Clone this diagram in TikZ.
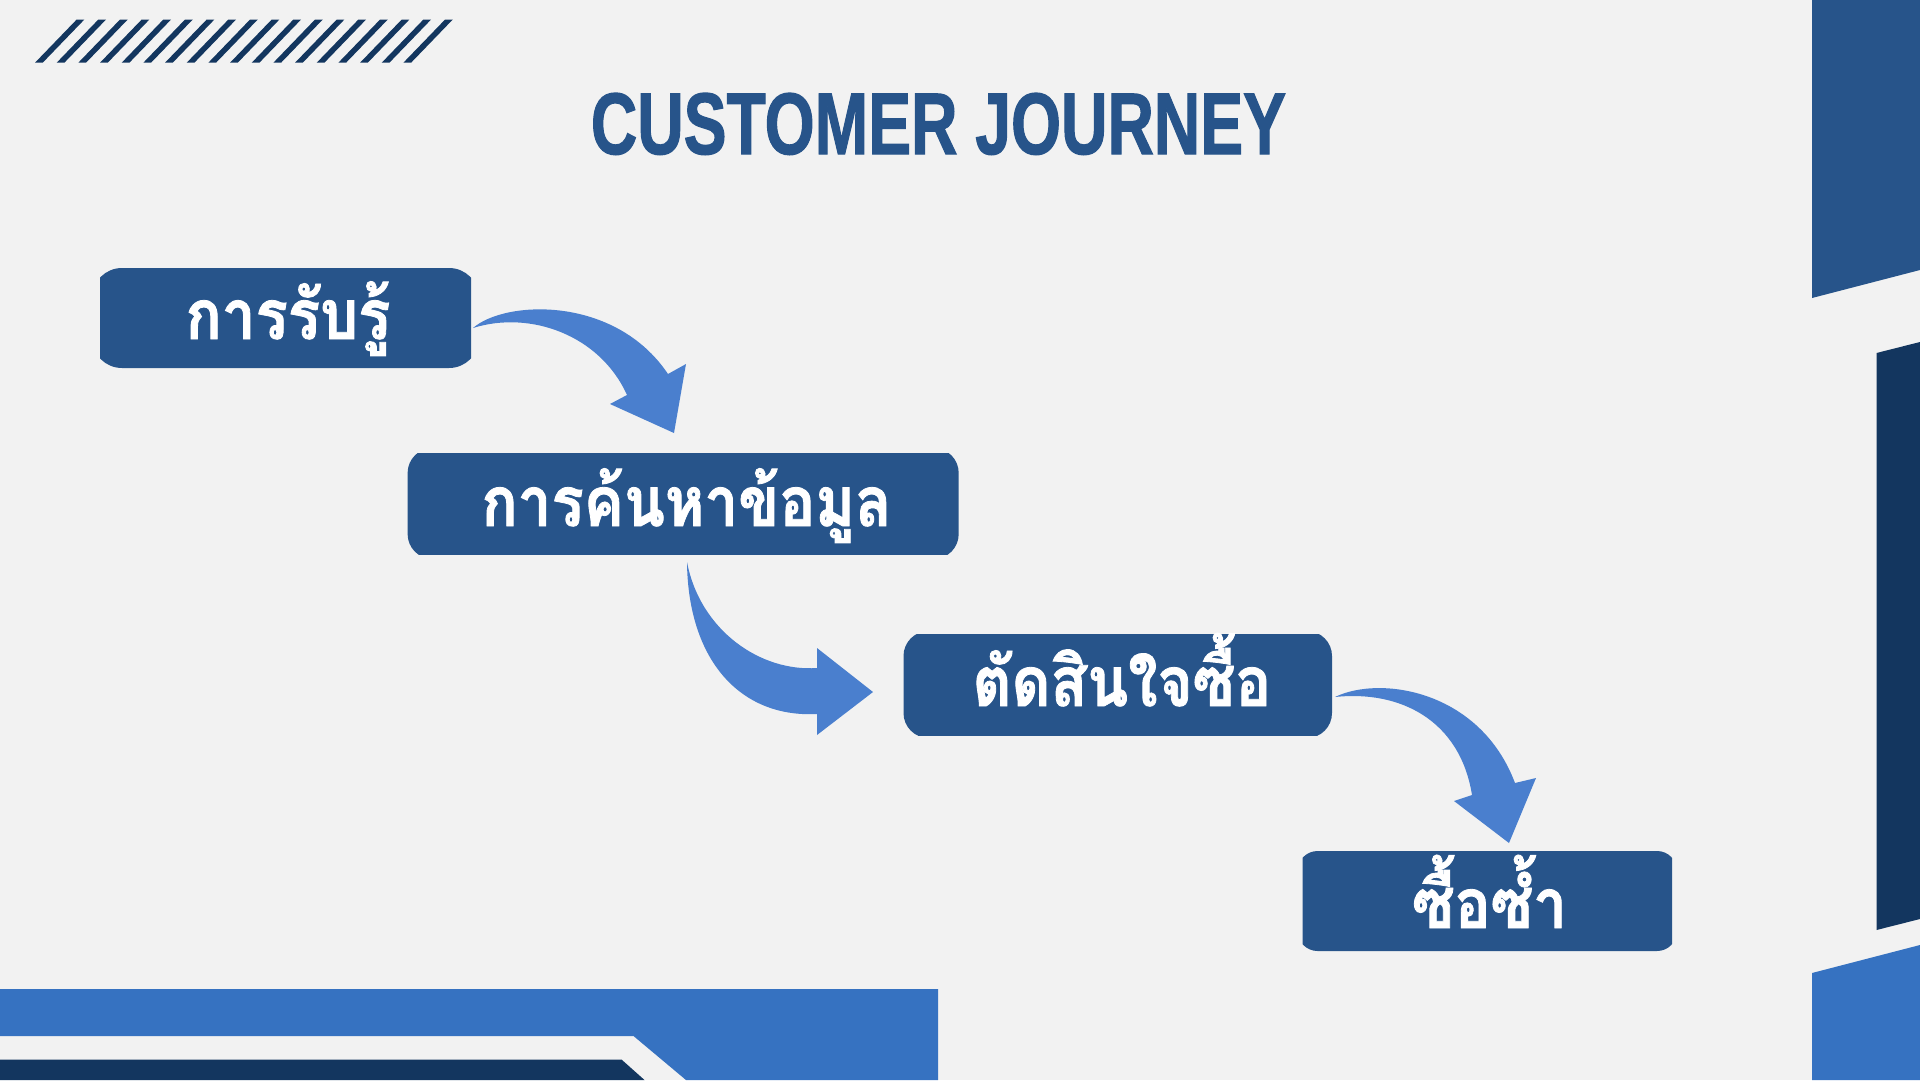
\documentclass[tikz,border=0pt]{standalone}
\usepackage{fontspec}
\usepackage{graphicx}
\newfontfamily\thaifont[Script=Thai,FakeStretch=0.87,FakeBold=1.2]{Loma}
\newfontfamily\titlefont[FakeBold=1.5]{Liberation Sans}
\definecolor{bgc}{HTML}{F2F2F2}
\definecolor{boxc}{HTML}{27548A}
\definecolor{navyc}{HTML}{13365F}
\definecolor{lbluec}{HTML}{3672C1}
\definecolor{arrowc}{HTML}{4A7FCE}
\tikzset{
  boxlbl/.style={text=white, font=\thaifont\bfseries\fontsize{69}{80}\selectfont, inner sep=0pt, anchor=base},
  flowarrow/.style={fill=arrowc},
  boxfill/.style={fill=boxc},
}
\begin{document}
\begin{tikzpicture}[x=1pt,y=-1pt]
\useasboundingbox (0,0) rectangle (1920,1080);
\fill[bgc] (0,0) rectangle (1920,1080);

% hatch stripes
\foreach \k in {0,...,17}{
  \fill[navyc] ({35+21.67*\k},62.7) -- ({42.7+21.67*\k},62.7) -- ({84.4+21.67*\k},19.5) -- ({76.7+21.67*\k},19.5) -- cycle;
}

% right side blocks
\fill[boxc] (1812,0) -- (1920,0) -- (1920,270) -- (1812,298) -- cycle;
\fill[navyc] (1876.5,353) -- (1920,342) -- (1920,919) -- (1876.5,930) -- cycle;
\fill[lbluec] (1812,973) -- (1920,945) -- (1920,1080) -- (1812,1080) -- cycle;

% bottom bars
\fill[lbluec] (0,989) -- (938,989) -- (938,1080) -- (686,1080) -- (633.5,1036) -- (0,1036) -- cycle;
\fill[navyc] (0,1059.5) -- (621.5,1059.5) -- (644.5,1080) -- (0,1080) -- cycle;

% title
\node[text=boxc, inner sep=0pt, anchor=base] (title) at (938.5,154)
  {\resizebox{695pt}{61pt}{\titlefont\bfseries CUSTOMER JOURNEY}};

% boxes
\begin{scope}
  \clip (100,268) rectangle (471,368);
  \fill[boxfill, rounded corners=30pt] (92,268) rectangle (479,368);
\end{scope}
\begin{scope}
  \clip (407.6,453) rectangle (958.7,554);
  \fill[boxfill, rounded corners=25pt] (407.6,448) rectangle (958.7,559);
\end{scope}
\begin{scope}
  \clip (903.5,634) rectangle (1332,735);
  \fill[boxfill, rounded corners=25pt] (903.5,631) rectangle (1332,738);
\end{scope}
\begin{scope}
  \clip (1302.6,851) rectangle (1672,951);
  \fill[boxfill, rounded corners=20pt] (1297.6,851) rectangle (1677,951);
\end{scope}

\node[boxlbl] (b1) at (288,339) {การรับรู้};
\node[boxlbl] (b2) at (686.5,526) {การค้นหาข้อมูล};
\node[boxlbl] (b3) at (1122,706) {ตัดสินใจซื้อ};
\node[boxlbl] (b4) at (1489.5,928) {ซื้อซ้ำ};

% curved block arrows
\fill[flowarrow] (473,328) .. controls (505,300) and (615,295) .. (668,374)
  -- (686,364) -- (674,433) -- (610,404) -- (627,395)
  .. controls (600,335) and (530,310) .. (473,328) -- cycle;
\fill[flowarrow] (687,562) .. controls (688,660) and (740,718) .. (817,714)
  -- (817,735) -- (873,692) -- (817,648) -- (817,668)
  .. controls (760,672) and (700,630) .. (687,562) -- cycle;
\fill[flowarrow] (1335,697) .. controls (1380,675) and (1480,690) .. (1515,783)
  -- (1536,778) -- (1509,843) -- (1454,801) -- (1472,795)
  .. controls (1460,720) and (1400,690) .. (1335,697) -- cycle;
\end{tikzpicture}
\end{document}
